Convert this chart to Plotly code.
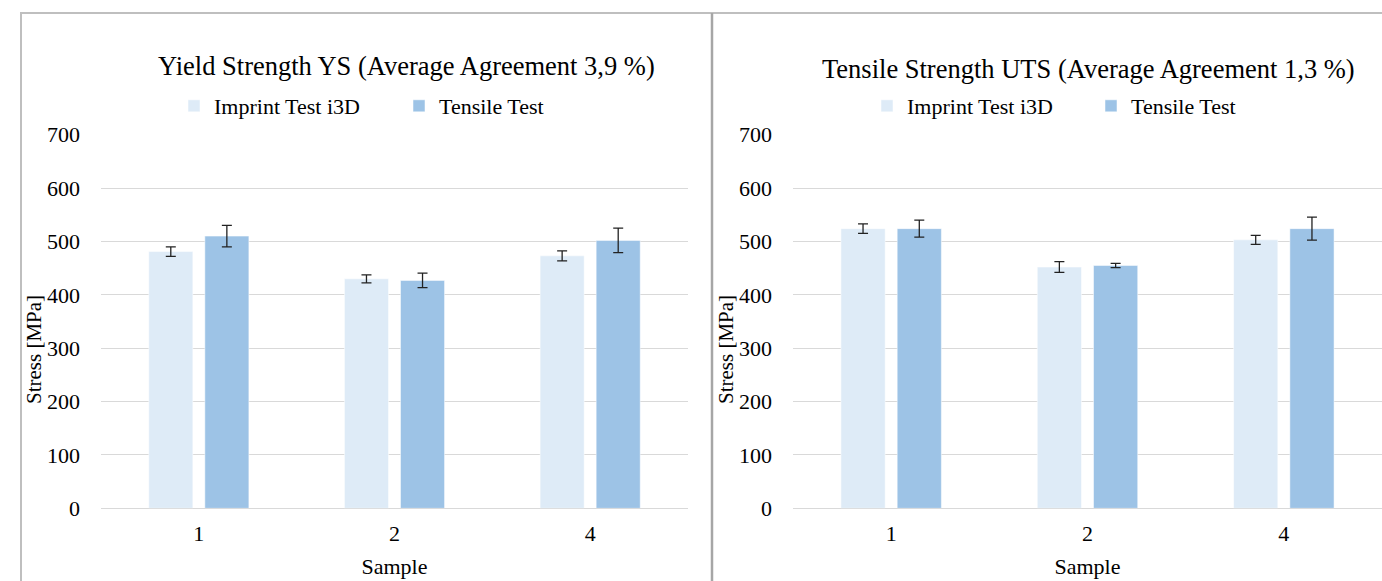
import plotly.graph_objects as go

# Sample identifiers (category axis)
samples = ["1", "2", "4"]

# Yield strength YS [MPa]
ys_imprint = [481, 430, 473]
ys_imprint_err = [9, 7.5, 9.5]
ys_tensile = [510, 427, 502]
ys_tensile_err = [20, 13.5, 23]

# Tensile strength UTS [MPa]
uts_imprint = [524, 452, 503]
uts_imprint_err = [9, 10, 8.5]
uts_tensile = [524, 455, 524]
uts_tensile_err = [16, 4, 21.5]

series_names = ["Imprint Test i3D", "Tensile Test"]
titles = ["Yield Strength YS (Average Agreement 3,9 %)",
          "Tensile Strength UTS (Average Agreement 1,3 %)"]

W, H = 1382, 581
FONT = "Liberation Serif"
C_IMPRINT = "#DEEBF7"
C_TENSILE = "#9DC3E6"
GRID = "#D9D9D9"


def px(x):
    return x / W


def py(y):
    return 1 - y / H


fig = go.Figure()

panels = [
    (ys_imprint, ys_imprint_err, ys_tensile, ys_tensile_err, "x", "y", "legend"),
    (uts_imprint, uts_imprint_err, uts_tensile, uts_tensile_err, "x2", "y2", "legend2"),
]
for imp, imp_e, ten, ten_e, xa, ya, lg in panels:
    fig.add_trace(go.Bar(
        x=samples, y=imp, name=series_names[0], marker_color=C_IMPRINT,
        marker_line=dict(color="white", width=0.5),
        error_y=dict(type="data", array=imp_e, color="#222222", thickness=1.3, width=5),
        xaxis=xa, yaxis=ya, legend=lg,
    ))
    fig.add_trace(go.Bar(
        x=samples, y=ten, name=series_names[1], marker_color=C_TENSILE,
        marker_line=dict(color="white", width=0.5),
        error_y=dict(type="data", array=ten_e, color="#222222", thickness=1.3, width=5),
        xaxis=xa, yaxis=ya, legend=lg,
    ))

y_dom = [py(508.3), py(134.7)]
axis_font = dict(family=FONT, size=22, color="#000000")

common_y = dict(range=[0, 700], dtick=100, showgrid=True, gridcolor=GRID, gridwidth=1.3,
                zeroline=True, zerolinecolor=GRID, zerolinewidth=1.3, showline=False,
                ticks="", tickfont=axis_font, ticklabelstandoff=20, fixedrange=True,
                automargin=False)
common_x = dict(type="category", showgrid=False, showline=False, ticks="",
                tickfont=axis_font, ticklabelstandoff=10, fixedrange=True,
                automargin=False)

fig.update_layout(
    width=W, height=H,
    autosize=False,
    margin=dict(l=0, r=0, t=0, b=0, autoexpand=False),
    paper_bgcolor="white", plot_bgcolor="white",
    barmode="group", bargap=0.427, bargroupgap=0.214,
    font=dict(family=FONT, color="#000000"),
    xaxis=dict(domain=[px(101), px(688)], anchor="y",
               title=dict(text="Sample", font=axis_font, standoff=13), **common_x),
    yaxis=dict(domain=y_dom, anchor="x", **common_y),
    xaxis2=dict(domain=[px(793), px(1382)], anchor="y2",
                title=dict(text="Sample", font=axis_font, standoff=13), **common_x),
    yaxis2=dict(domain=y_dom, anchor="x2", **common_y),
    legend=dict(orientation="h", x=px(174), y=py(106), xanchor="left", yanchor="middle",
                font=dict(family=FONT, size=22), entrywidth=180, bgcolor="rgba(0,0,0,0)"),
    legend2=dict(orientation="h", x=px(867), y=py(106), xanchor="left", yanchor="middle",
                 font=dict(family=FONT, size=22), entrywidth=179, bgcolor="rgba(0,0,0,0)"),
)

# Chart titles
for t, cx, cy in [(titles[0], 407, 66), (titles[1], 1088, 69)]:
    fig.add_annotation(text=t, x=px(cx), y=py(cy), xref="paper", yref="paper",
                       showarrow=False, xanchor="center", yanchor="middle",
                       font=dict(family=FONT, size=26.5, color="#000000"))

# Rotated y-axis titles
for cx in (34, 726):
    fig.add_annotation(text="Stress [MPa]", x=px(cx), y=py(350), xref="paper", yref="paper",
                       showarrow=False, textangle=-90, xanchor="center", yanchor="middle",
                       font=dict(family=FONT, size=21, color="#000000"))

# Chart frames
frame = dict(color="#BFBFBF", width=2)
fig.add_shape(type="line", xref="paper", yref="paper", x0=px(20), x1=1, y0=py(13), y1=py(13), line=frame)
fig.add_shape(type="line", xref="paper", yref="paper", x0=px(21), x1=px(21), y0=py(13), y1=0, line=frame)
fig.add_shape(type="line", xref="paper", yref="paper", x0=px(712), x1=px(712), y0=py(13), y1=0,
              line=dict(color="#A6A6A6", width=2.5))

fig.write_html("out.html")
